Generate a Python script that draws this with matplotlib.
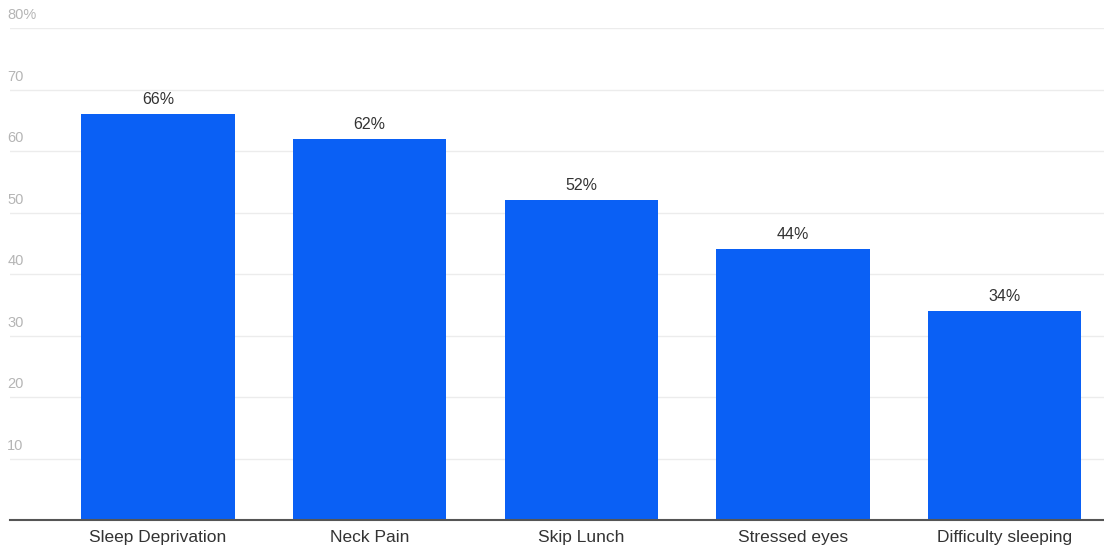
import matplotlib.pyplot as plt
import matplotlib.transforms as mtransforms

# data
categories = ["Sleep Deprivation", "Neck Pain", "Skip Lunch", "Stressed eyes", "Difficulty sleeping"]
values = [66, 62, 52, 44, 34]
yticks = [10, 20, 30, 40, 50, 60, 70, 80]
ytick_labels = ["10", "20", "30", "40", "50", "60", "70", "80%"]

plt.rcParams['font.family'] = ['Liberation Sans', 'DejaVu Sans']

fig = plt.figure(figsize=(11.04, 5.45), dpi=100)
ax = fig.add_axes([10 / 1104, 25 / 545, 1 - 10 / 1104, 1 - 25 / 545 - 28 / 545])

x = list(range(len(categories)))
ax.bar(x, values, width=0.725, color='#0a60f5', zorder=3)

# value labels above bars
for xi, v in zip(x, values):
    ax.annotate(f"{v}%", (xi, v), xytext=(0, 5), textcoords='offset points',
                ha='center', va='bottom', fontsize=11.5, color='#333333')

ax.set_xlim(-0.70, 4.47)
ax.set_ylim(0, 80)

# gridlines
for t in yticks:
    ax.axhline(t, color='#ececec', linewidth=1, zorder=1)

# y labels sit above the gridlines, inside the plot
trans = mtransforms.blended_transform_factory(ax.transAxes, ax.transData)
for t, lab in zip(yticks, ytick_labels):
    ax.annotate(lab, (0, t), xycoords=trans, xytext=(-2, 4), textcoords='offset points',
                ha='left', va='bottom', fontsize=10.5, color='#b5b5b5')

ax.set_yticks([])
ax.set_xticks(x)
ax.set_xticklabels(categories, fontsize=12.5, color='#333333')
ax.tick_params(axis='x', length=0, pad=7)

for s in ['top', 'right', 'left']:
    ax.spines[s].set_visible(False)
ax.spines['bottom'].set_color('#555555')
ax.spines['bottom'].set_linewidth(1.5)
ax.spines['bottom'].set_zorder(4)

fig.savefig('out.png', dpi=100)
